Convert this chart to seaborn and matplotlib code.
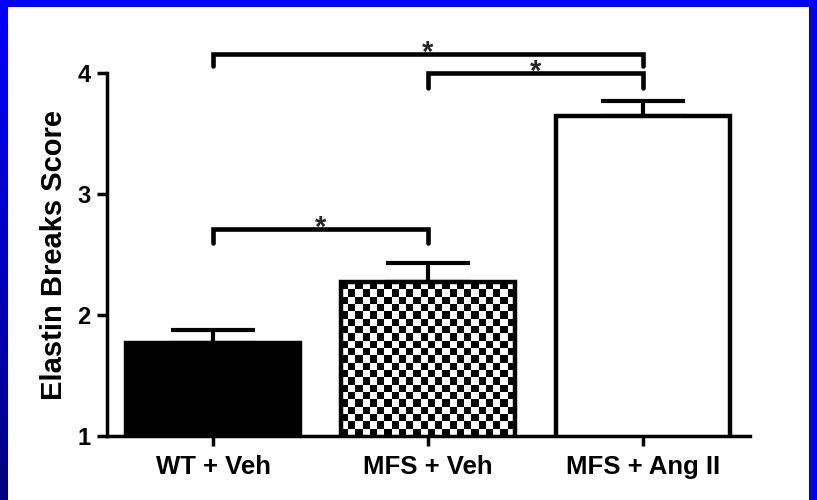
import numpy as np
import pandas as pd
import seaborn as sns
import matplotlib.pyplot as plt
from matplotlib.patches import Rectangle

groups = ['WT + Veh', 'MFS + Veh', 'MFS + Ang II']
means = [1.77, 2.27, 3.65]
sems = [0.11, 0.16, 0.12]
bar_colors = ['black', 'white', 'white']

# significance brackets: (left group, right group, height, leg drop)
pairs = [(0, 1), (1, 2), (0, 2)]
bracket_y = [2.71, 4.0, 4.157]
leg_drop = [0.115, 0.125, 0.1]
stars = ['*', '*', '*']

sns.set_style('ticks')
plt.rcParams['font.family'] = ['Liberation Sans', 'DejaVu Sans']
plt.rcParams['font.weight'] = 'bold'

df = pd.DataFrame({'group': groups, 'score': means})

fig = plt.figure(figsize=(8.17, 5.0), dpi=100)
fig.patch.set_facecolor('#0000FF')
# white slide area + dark left edge
fig.add_artist(Rectangle((8 / 817, 0), 801 / 817, 493 / 500, transform=fig.transFigure,
                         facecolor='white', edgecolor='none', zorder=-5))
strip = fig.add_axes([0, 0, 8 / 817, 1])
grad = np.linspace(1.0, 0.5, 256).reshape(-1, 1)
strip.imshow(np.dstack([np.zeros_like(grad), np.zeros_like(grad), grad]), aspect='auto')
strip.axis('off')

ax = fig.add_axes([107 / 817, 64 / 500, 643 / 817, 387 / 500])
ax.patch.set_alpha(0)

sns.barplot(data=df, x='group', y='score', hue='group', palette=bar_colors, legend=False,
            width=0.81, edgecolor='black', linewidth=3.2, ax=ax, zorder=2)
ax.errorbar(x=np.arange(len(groups)), y=means, yerr=[np.zeros(len(sems)), sems], fmt='none',
            ecolor='black', elinewidth=3, capsize=30, capthick=3, zorder=1)

ax.set_xlim(-0.495, 2.5)
ax.set_ylim(1, 4.2)

# checkerboard fill for the MFS + Veh bar
bar = ax.patches[1]
x0, w = bar.get_x(), bar.get_width()
y0, y1 = 1, bar.get_y() + bar.get_height()
px_w = ax.transData.transform((x0 + w, 0))[0] - ax.transData.transform((x0, 0))[0]
px_h = ax.transData.transform((0, y1))[1] - ax.transData.transform((0, y0))[1]
nx, ny = int(round(px_w / 7.3)), int(round(px_h / 7.3))
checker = (np.add.outer(np.arange(ny), np.arange(nx)) % 2).astype(float)
im = ax.imshow(checker, cmap='gray', extent=(x0, x0 + w, y0, y1), aspect='auto',
               interpolation='nearest', zorder=1.5)
im.set_clip_path(bar)
bar.set_facecolor('none')
ax.set_xlim(-0.495, 2.5)
ax.set_ylim(1, 4.2)

for (a, b), yb, d, s in zip(pairs, bracket_y, leg_drop, stars):
    ax.plot([a, a, b, b], [yb - d, yb, yb, yb - d], color='black', lw=3.3,
            solid_joinstyle='miter', clip_on=False)
    ax.annotate(s, xy=((a + b) / 2, yb), xytext=(0, -5), textcoords='offset points',
                ha='center', va='baseline', fontsize=21, fontweight='bold')

sns.despine(ax=ax)
ax.spines['left'].set_bounds(1, 4)
for sp in ['left', 'bottom']:
    ax.spines[sp].set_linewidth(2.5)
    ax.spines[sp].set_color('black')
ax.set_yticks([1, 2, 3, 4])
ax.tick_params(axis='both', width=2.5, length=7, direction='out', color='black')
ax.tick_params(axis='y', labelsize=17, pad=5)
ax.tick_params(axis='x', labelsize=18.5, pad=7)
for lab in ax.get_xticklabels() + ax.get_yticklabels():
    lab.set_fontweight('bold')
    lab.set_color('black')

ax.set_xlabel('')
ax.set_ylabel('Elastin Breaks Score', fontsize=21, fontweight='bold', color='black')
ax.yaxis.set_label_coords(-0.061, 0.468)

fig.savefig('out.png', dpi=100, facecolor=fig.get_facecolor())
